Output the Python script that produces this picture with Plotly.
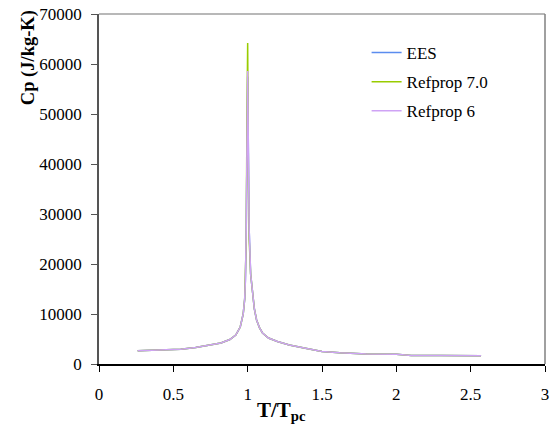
import plotly.graph_objects as go

# reduced temperature T/Tpc
tr = [0.26, 0.35, 0.45, 0.55, 0.65, 0.75, 0.82, 0.88, 0.92, 0.95, 0.97, 0.98,
      0.985, 0.99, 0.995, 1.0, 1.005, 1.01, 1.02, 1.03, 1.045, 1.06, 1.08, 1.1,
      1.14, 1.2, 1.28, 1.38, 1.5, 1.62, 1.8, 2.0, 2.1, 2.3, 2.57]

# Cp in J/kg-K
cp_ees = [2650, 2700, 2800, 2950, 3300, 3750, 4200, 4900, 5800, 7400, 10000, 13000,
          17000, 26000, 45000, 57500, 42000, 27000, 18000, 14500, 11000, 8800, 7200, 6200,
          5200, 4500, 3800, 3200, 2500, 2250, 2000, 1950, 1700, 1680, 1650]
cp_rp7 = [2650, 2700, 2800, 2950, 3300, 3750, 4200, 4900, 5800, 7400, 10000, 13000,
          17000, 24000, 48000, 64200, 38000, 25000, 18000, 14500, 11000, 8800, 7200, 6200,
          5200, 4500, 3800, 3200, 2500, 2250, 2000, 1950, 1700, 1680, 1650]
cp_rp6 = [2650, 2700, 2800, 2950, 3300, 3750, 4200, 4900, 5800, 7400, 10000, 13000,
          17000, 26000, 45000, 58600, 42000, 27000, 18000, 14500, 11000, 8800, 7200, 6200,
          5200, 4500, 3800, 3200, 2500, 2250, 2000, 1950, 1700, 1680, 1650]

x_ticks = [0, 0.5, 1, 1.5, 2, 2.5, 3]
x_tick_text = ['0', '0.5', '1', '1.5', '2', '2.5', '3']
y_ticks = [0, 10000, 20000, 30000, 40000, 50000, 60000, 70000]
y_tick_text = ['0', '10000', '20000', '30000', '40000', '50000', '60000', '70000']

font = 'Liberation Serif, Times New Roman, serif'

fig = go.Figure()
fig.add_trace(go.Scatter(x=tr, y=cp_ees, mode='lines', name='EES', legendgroup='a',
                         line=dict(color='#5b8def', width=1.5)))
fig.add_trace(go.Scatter(x=tr, y=cp_rp7, mode='lines', name='Refprop 7.0', legendgroup='b',
                         line=dict(color='#99cc00', width=1.5)))
fig.add_trace(go.Scatter(x=tr, y=cp_rp6, mode='lines', name='Refprop 6', legendgroup='c',
                         line=dict(color='#cfa3f5', width=1.5)))

fig.update_layout(
    width=550, height=428,
    margin=dict(l=99, r=5, t=14, b=64, autoexpand=False),
    paper_bgcolor='white', plot_bgcolor='white',
    font=dict(family=font, size=17, color='black'),
    legend=dict(x=0.6, y=0.94, xanchor='left', yanchor='top', tracegroupgap=4,
                bgcolor='rgba(0,0,0,0)', font=dict(size=17)),
    xaxis=dict(range=[0, 3], tickvals=x_ticks, ticktext=x_tick_text,
               showgrid=False, zeroline=False, showline=True, linecolor='black',
               linewidth=1.5, ticks='outside', ticklen=6, tickcolor='black',
               ticklabelstandoff=8, automargin=False),
    yaxis=dict(range=[0, 70000], tickvals=y_ticks, ticktext=y_tick_text,
               showgrid=False, zeroline=False,
               showline=True, linecolor='#555555', linewidth=1.5, ticks='outside',
               ticklen=6, tickcolor='#555555', ticklabelstandoff=6, automargin=False),
)

# top and right frame lines
fig.add_shape(type='line', xref='paper', yref='paper', x0=0, x1=1, y0=1, y1=1,
              line=dict(color='#a0a0a0', width=1.5))
fig.add_shape(type='line', xref='paper', yref='paper', x0=1, x1=1, y0=0, y1=1,
              line=dict(color='#808080', width=1.5))

fig.add_annotation(text='<b>Cp (J/kg-K)</b>', xref='paper', yref='paper',
                   x=-0.159, y=0.874, textangle=-90, showarrow=False,
                   xanchor='center', yanchor='middle', font=dict(size=18.5))
fig.add_annotation(text='<b>T/T<sub>pc</sub></b>', xref='paper', yref='paper',
                   x=0.41, y=-0.135, showarrow=False, xanchor='center', yanchor='middle',
                   font=dict(size=21))

# drop the default 8px body margin so the figure sits at the window corner
fig.write_html('out.html', config={'displayModeBar': False},
               post_script="document.body.style.margin='0';")
